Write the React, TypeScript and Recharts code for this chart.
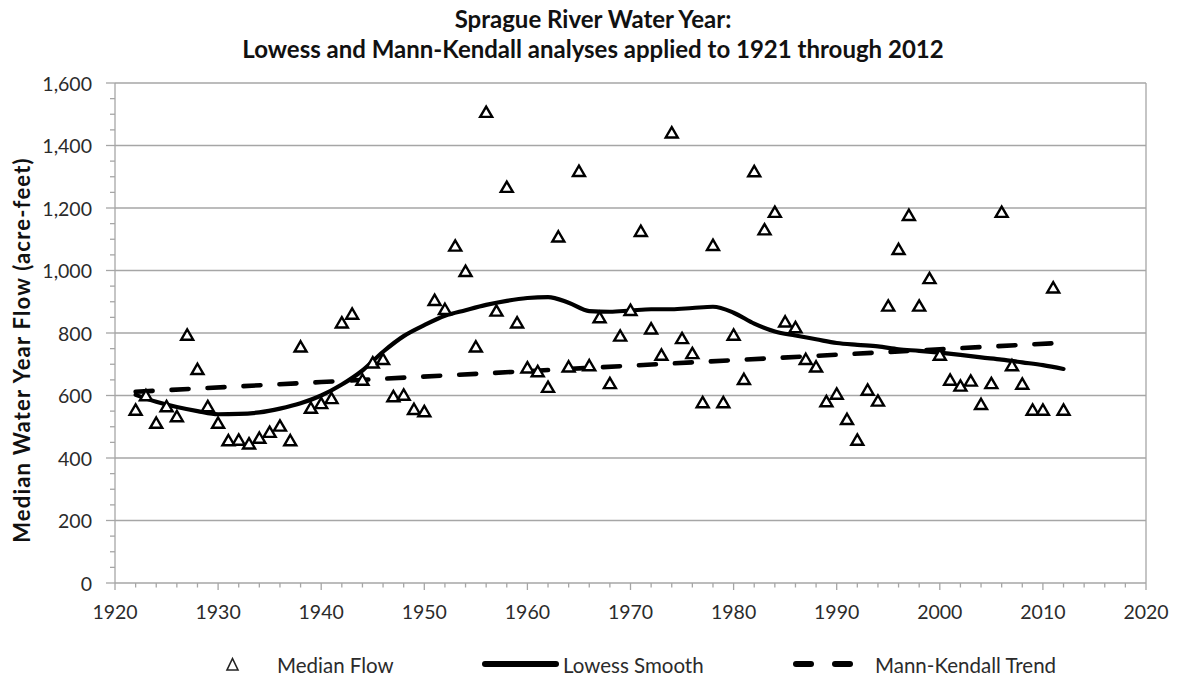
import { ComposedChart, Scatter, Line, XAxis, YAxis, ReferenceLine, Label } from 'recharts';

const FONT = 'Lato, "Open Sans", sans-serif';
const GRID = '#a6a6a6';
const INK = '#111';
const TICK_INK = '#2b2b2b';

// water years 1922..2012 and median flow (acre-feet)
const flowYears = Array.from({ length: 91 }, (_, i) => 1922 + i);
const medianFlow = [
  554, 600, 512, 565, 533, 794, 684, 565, 512, 456,
  458, 446, 464, 483, 503, 456, 756, 560, 575, 591,
  833, 861, 650, 705, 716, 597, 602, 556, 549, 905,
  876, 1079, 998, 756, 1507, 871, 1267, 833, 689, 677,
  627, 1108, 692, 1318, 696, 850, 639, 791, 873, 1126,
  814, 730, 1441, 783, 735, 578, 1081, 578, 794, 652,
  1317, 1131, 1187, 836, 818, 716, 692, 581, 605, 524,
  458, 618, 583, 887, 1068, 1177, 887, 975, 730, 650,
  631, 647, 572, 639, 1187, 696, 637, 554, 554, 945,
  554,
];

const lowessYears = [
  1922, 1924, 1926, 1928, 1930, 1932, 1934, 1936, 1938, 1940, 1942, 1944, 1946, 1948,
  1950, 1952, 1954, 1956, 1958, 1960, 1962, 1964, 1966, 1968, 1970, 1972, 1974, 1976,
  1978, 1980, 1982, 1984, 1986, 1988, 1990, 1992, 1994, 1996, 1998, 2000, 2002, 2004,
  2006, 2008, 2010, 2012,
];
const lowessFlow = [
  602, 580, 563, 550, 540, 541, 546, 558, 575, 600, 635, 680, 740, 790,
  825, 855, 873, 890, 903, 912, 915, 897, 870, 868, 872, 876, 876, 880,
  884, 865, 830, 805, 792, 780, 768, 762, 757, 748, 743, 737, 730, 722,
  715, 706, 697, 685,
];

const trendYears = [1922, 1940, 1960, 1980, 2000, 2012];
const trendFlow = [612, 643, 678, 713, 748, 769];

const yMajor = [200, 400, 600, 800, 1000, 1200, 1400, 1600];
const yTicks = Array.from({ length: 33 }, (_, i) => i * 50);
const xTicks = Array.from({ length: 51 }, (_, i) => 1920 + i * 2);

const flowData = flowYears.map((year, i) => ({ year, flow: medianFlow[i] }));
const lowessData = lowessYears.map((year, i) => ({ year, lowess: lowessFlow[i] }));
const trendData = trendYears.map((year, i) => ({ year, trend: trendFlow[i] }));

const Y_TS = 8;
const Y_TM = 15;
const X_TS = 8;
const X_TM = 14;

const YTick = (p: any) => {
  const v = p.payload.value;
  const major = v % 200 === 0;
  const ax = p.x + Y_TS + Y_TM;
  return (
    <g>
      <line x1={ax - (major ? 9 : 5)} x2={ax} y1={p.y} y2={p.y} stroke={GRID} strokeWidth={1.3} />
      {major && (
        <text x={p.x} y={p.y} textAnchor="end" dominantBaseline="central" fontSize={19.5} fill={TICK_INK} fontFamily={FONT}>
          {v.toLocaleString('en-US')}
        </text>
      )}
    </g>
  );
};

const XTick = (p: any) => {
  const v = p.payload.value;
  const major = v % 10 === 0;
  const ay = p.y - X_TS - X_TM;
  return (
    <g>
      <line x1={p.x} x2={p.x} y1={ay} y2={ay + (major ? 7 : 4.5)} stroke={GRID} strokeWidth={1.3} />
      {major && (
        <text x={p.x} y={p.y} dy="0.71em" textAnchor="middle" fontSize={19.5} fill={TICK_INK} fontFamily={FONT}>
          {v}
        </text>
      )}
    </g>
  );
};

const Triangle = (p: any) => {
  const { cx, cy } = p;
  if (cx == null || cy == null) return null;
  return (
    <path
      d={`M${cx},${cy - 5.5} L${cx + 6},${cy + 4.8} L${cx - 6},${cy + 4.8} Z`}
      fill="#fff"
      stroke="#000"
      strokeWidth={2.4}
      strokeLinejoin="miter"
    />
  );
};

export default function App() {
  return (
    <div style={{ position: 'absolute', left: 0, top: 0, width: 1178, height: 679, background: '#fff', fontFamily: FONT }}>
      <div style={{ position: 'absolute', top: 4, left: 4, width: 1178, textAlign: 'center', fontWeight: 700, fontSize: 24, lineHeight: '30px', color: INK }}>
        Sprague River Water Year:
        <br />
        Lowess and Mann-Kendall analyses applied to 1921 through 2012
      </div>
      <ComposedChart width={1178} height={679} margin={{ top: 83, right: 32, bottom: 66, left: 0 }}>
        <XAxis
          type="number"
          dataKey="year"
          domain={[1920, 2020]}
          ticks={xTicks}
          interval={0}
          tickSize={X_TS}
          tickMargin={X_TM}
          tickLine={false}
          axisLine={{ stroke: GRID, strokeWidth: 1.3 }}
          tick={<XTick />}
          height={30}
          allowDataOverflow
        />
        <YAxis
          type="number"
          domain={[0, 1600]}
          ticks={yTicks}
          interval={0}
          tickSize={Y_TS}
          tickMargin={Y_TM}
          tickLine={false}
          axisLine={{ stroke: GRID, strokeWidth: 1.3 }}
          tick={<YTick />}
          width={115}
          allowDataOverflow
        >
          <Label
            content={(p: any) => {
              const vb = p.viewBox;
              const cy = vb.y + vb.height / 2 + 17;
              return (
                <text
                  x={21}
                  y={cy}
                  transform={`rotate(-90 21 ${cy})`}
                  textAnchor="middle"
                  dominantBaseline="central"
                  fontSize={22}
                  letterSpacing={1.2}
                  fontWeight={700}
                  fill={INK}
                  fontFamily={FONT}
                >
                  Median Water Year Flow (acre-feet)
                </text>
              );
            }}
          />
        </YAxis>
        {yMajor.map((v) => (
          <ReferenceLine key={v} y={v} stroke={GRID} strokeWidth={1.3} />
        ))}
        <ReferenceLine x={2020} stroke={GRID} strokeWidth={1.3} />
        <Scatter data={flowData} dataKey="flow" shape={<Triangle />} isAnimationActive={false} />
        <Line
          data={lowessData}
          dataKey="lowess"
          type="monotone"
          stroke="#000"
          strokeWidth={4.2}
          dot={false}
          activeDot={false}
          strokeLinecap="round"
          isAnimationActive={false}
        />
        <Line
          data={trendData}
          dataKey="trend"
          type="linear"
          stroke="#000"
          strokeWidth={4.6}
          strokeDasharray="17 19"
          strokeLinecap="round"
          dot={false}
          activeDot={false}
          isAnimationActive={false}
        />
      </ComposedChart>
      <svg style={{ position: 'absolute', left: 0, top: 645 }} width={1178} height={34}>
        <path d="M232.5,13.5 L238,25 L227,25 Z" fill="#fff" stroke="#222" strokeWidth={1.6} />
        <text x={277} y={20} dominantBaseline="central" fontSize={20.5} fill={TICK_INK} fontFamily={FONT}>Median Flow</text>
        <line x1={485} x2={556} y1={19} y2={19} stroke="#000" strokeWidth={6} strokeLinecap="round" />
        <text x={563} y={20} dominantBaseline="central" fontSize={20.5} fill={TICK_INK} fontFamily={FONT}>Lowess Smooth</text>
        <line x1={796} x2={811} y1={19} y2={19} stroke="#000" strokeWidth={6} strokeLinecap="round" />
        <line x1={835} x2={850} y1={19} y2={19} stroke="#000" strokeWidth={6} strokeLinecap="round" />
        <text x={875} y={20} dominantBaseline="central" fontSize={20.5} fill={TICK_INK} fontFamily={FONT}>Mann-Kendall Trend</text>
      </svg>
    </div>
  );
}
